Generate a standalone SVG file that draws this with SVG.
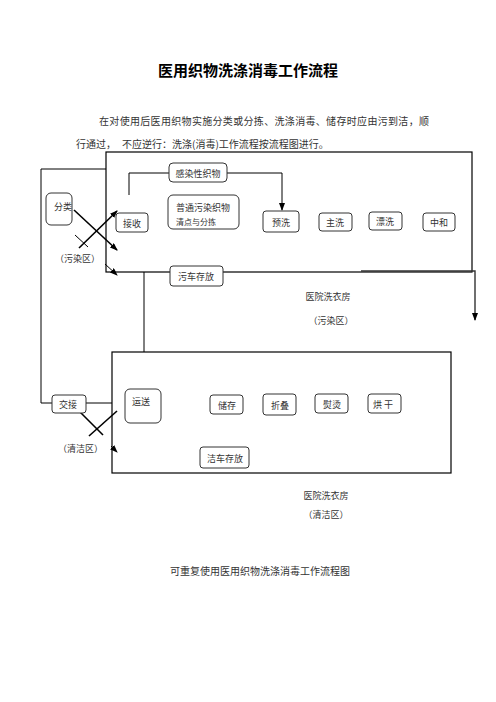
<svg xmlns="http://www.w3.org/2000/svg" width="496" height="702" viewBox="0 0 496 702">
<defs>
<marker id="arr" markerWidth="8" markerHeight="6" refX="7" refY="3" orient="auto" markerUnits="userSpaceOnUse">
<path d="M0,0 L8,3 L0,6 z" fill="#000"/>
</marker>
<style>
text{font-family:"Noto Sans CJK SC","Noto Sans",sans-serif;fill:#333;dominant-baseline:central}
.t9{font-size:9px}
.t8{font-size:8px}
.t10{font-size:10px}
.node{fill:#fff;stroke:#333;stroke-width:1}
.area{fill:none;stroke:#000;stroke-width:1.2}
.ln{fill:none;stroke:#000;stroke-width:1}
.x{fill:none;stroke:#000;stroke-width:1.6}
</style>
</defs>
<rect width="496" height="702" fill="#fff"/>

<text x="248" y="69" text-anchor="middle" style="font-size:15px;font-weight:bold;fill:#000">医用织物洗涤消毒工作流程</text>
<text class="t10" x="99" y="120" textLength="330" lengthAdjust="spacing">在对使用后医用织物实施分类或分拣、洗涤消毒、储存时应由污到洁，顺</text>
<text class="t10" x="76" y="143">行通过，</text>
<text class="t10" x="122" y="143">不应逆行：洗涤(消毒)工作流程按流程图进行。</text>

<g id="area-dirty"><rect class="area" x="106" y="152" width="366" height="120"/></g>
<g id="area-clean"><rect class="area" x="112" y="352" width="339" height="121"/></g>

<g id="connectors">
<path class="ln" d="M106,169 H41 V403 H52"/>
<path class="ln" d="M86,403 H112"/>
<path class="ln" d="M144,272 V352"/>
<path class="ln" d="M169,173 H129 V195"/>
<path class="ln" d="M227,173 H282 V210" marker-end="url(#arr)"/>
<path class="ln" d="M361,271 H475 V320" marker-end="url(#arr)" style="stroke:#333;stroke-width:1.4"/>
<path class="x" d="M74,210 L117,250" marker-end="url(#arr)"/>
<path class="x" d="M79,248 L117,211" marker-end="url(#arr)"/>
<path class="ln" d="M75,235 L88,247"/>
<path class="ln" d="M105,264 L117,275" marker-end="url(#arr)"/>
<path class="x" d="M76,408 L103,435"/>
<path class="x" d="M89,436 L117,411"/>
<path class="ln" d="M111,446 L117,452" marker-end="url(#arr)"/>
</g>

<g id="n-fenlei"><rect class="node" x="46" y="193" width="26" height="32" rx="5"/><text class="t9" x="54" y="206">分类</text></g>
<text id="lbl-wuran" class="t9" x="55" y="258">（污染区）</text>
<g id="n-ganran"><rect class="node" x="169" y="163" width="58" height="19" rx="4"/><text class="t9" x="198" y="173" text-anchor="middle">感染性织物</text></g>
<g id="n-jieshou"><rect class="node" x="116" y="213" width="32" height="19" rx="3"/><text class="t9" x="132" y="223" text-anchor="middle">接收</text></g>
<g id="n-putong"><rect class="node" x="168" y="195" width="71" height="34" rx="5"/><text class="t9" x="176" y="207">普通污染织物</text><text class="t8" x="176" y="221">清点与分拣</text></g>
<g id="n-yuxi"><rect class="node" x="263" y="211" width="36" height="21" rx="3"/><text class="t9" x="281" y="222" text-anchor="middle">预洗</text></g>
<g id="n-zhuxi"><rect class="node" x="319" y="213" width="33" height="18" rx="3"/><text class="t9" x="335" y="222" text-anchor="middle">主洗</text></g>
<g id="n-piaoxi"><rect class="node" x="369" y="212" width="33" height="18" rx="3"/><text class="t9" x="385" y="221" text-anchor="middle">漂洗</text></g>
<g id="n-zhonghe"><rect class="node" x="423" y="213" width="32" height="18" rx="3"/><text class="t9" x="439" y="222" text-anchor="middle">中和</text></g>
<g id="n-wuche"><rect class="node" x="170" y="266" width="53" height="20" rx="3"/><text class="t9" x="196" y="276" text-anchor="middle">污车存放</text></g>
<text class="t9" x="328" y="296" text-anchor="middle">医院洗衣房</text>
<text class="t9" x="331" y="320" text-anchor="middle">（污染区）</text>

<g id="n-jiaojie"><rect class="node" x="52" y="395" width="34" height="18" rx="3"/><text class="t9" x="68" y="404" text-anchor="middle">交接</text></g>
<text id="lbl-qingjie" class="t9" x="58" y="448">（清洁区）</text>
<g id="n-yunsong"><rect class="node" x="125" y="389" width="36" height="34" rx="5"/><text class="t9" x="141" y="401" text-anchor="middle">运送</text></g>
<g id="n-chucun"><rect class="node" x="210" y="395" width="33" height="19" rx="3"/><text class="t9" x="227" y="405" text-anchor="middle">储存</text></g>
<g id="n-zhedie"><rect class="node" x="263" y="394" width="33" height="21" rx="3"/><text class="t9" x="280" y="405" text-anchor="middle">折叠</text></g>
<g id="n-yuntang"><rect class="node" x="315" y="394" width="33" height="19" rx="3"/><text class="t9" x="332" y="404" text-anchor="middle">熨烫</text></g>
<g id="n-honggan"><rect class="node" x="368" y="394" width="33" height="19" rx="3"/><text class="t9" x="384" y="404" text-anchor="middle" letter-spacing="2">烘干</text></g>
<g id="n-jieche"><rect class="node" x="200" y="447" width="49" height="21" rx="3"/><text class="t9" x="225" y="458" text-anchor="middle">洁车存放</text></g>
<text class="t9" x="326" y="495" text-anchor="middle">医院洗衣房</text>
<text class="t9" x="326" y="514" text-anchor="middle">（清洁区）</text>

<text class="t10" x="260" y="570" text-anchor="middle">可重复使用医用织物洗涤消毒工作流程图</text>
</svg>
